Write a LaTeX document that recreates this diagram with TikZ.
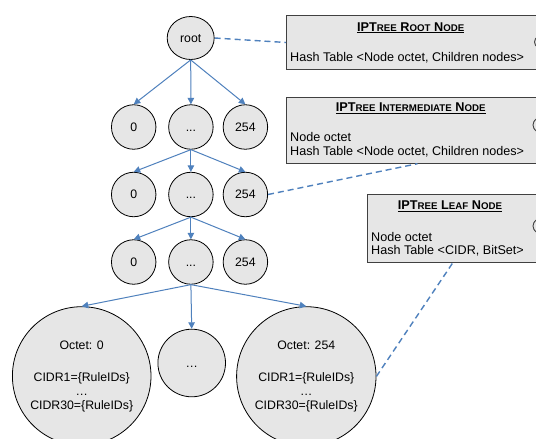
\documentclass[tikz,border=0pt]{standalone}
\usepackage{fontspec}
\setmainfont{Liberation Sans}
\usetikzlibrary{arrows.meta,shapes.geometric}
\definecolor{nodefill}{RGB}{230,230,230}
\definecolor{linkblue}{RGB}{79,129,189}
\definecolor{boxline}{RGB}{64,64,64}
\newcommand\fakesc[1]{{\fontsize{9.7}{10}\selectfont #1}}
\begin{document}
\begin{tikzpicture}[x=1pt,y=-1pt,
  every node/.style={font=\fontsize{12.3}{15}\selectfont},
  tnode/.style={circle,draw=black,fill=nodefill,line width=0.8pt,minimum size=44.5pt,inner sep=0pt,text height=8.8pt,text depth=0pt},
  rootnode/.style={ellipse,draw=black,fill=nodefill,line width=0.8pt,minimum width=47pt,minimum height=43pt,inner sep=0pt,text height=8.8pt,text depth=0pt},
  leafnode/.style={circle,draw=black,fill=nodefill,line width=0.8pt,inner sep=0pt,align=center},
  arr/.style={draw=linkblue,line width=1pt,-{Triangle[length=6.5pt,width=6.5pt]}},
  link/.style={draw=linkblue,line width=1.4pt,dash pattern=on 6pt off 4pt},
  infobox/.style={draw=boxline,fill=nodefill,line width=1pt,inner sep=0pt,anchor=north west},
  boxtitle/.style={anchor=base,inner sep=0pt,font=\fontsize{12.7}{15}\selectfont},
  boxtext/.style={anchor=base west,inner sep=0pt,font=\fontsize{12.6}{15}\selectfont},
  edgemark/.style={draw=boxline,line width=0.9pt}]
\useasboundingbox (0,0) rectangle (536,439);
\clip (0,0) rectangle (536,439);
\fill[white] (0,0) rectangle (536,439);

% info boxes
\node[infobox,minimum width=262pt,minimum height=54pt] (rootbox) at (286,15) {};
\node[infobox,minimum width=262pt,minimum height=66pt] (ibox) at (286,96.7) {};
\node[infobox,minimum width=170.5pt,minimum height=68pt] (lbox) at (366.7,194.3) {};
\draw[edgemark] (546.5,42) circle[x radius=12pt,y radius=8pt];
\draw[edgemark] (545,125) circle[x radius=12pt,y radius=9pt];
\draw[edgemark] (545,226) circle[x radius=12pt,y radius=9pt];

\node[boxtitle] (rt) at (410.7,31) {\underline{\textbf{IPT\fakesc{REE} R\fakesc{OOT} N\fakesc{ODE}}}};
\node[boxtext] (rtx) at (290,61) {Hash Table <Node octet, Children nodes>};
\node[boxtitle] (it) at (410.7,111.7) {\underline{\textbf{IPT\fakesc{REE} I\fakesc{NTERMEDIATE} N\fakesc{ODE}}}};
\node[boxtext] (itx1) at (290,141) {Node octet};
\node[boxtext] (itx2) at (290,155.4) {Hash Table <Node octet, Children nodes>};
\node[boxtitle] (lt) at (450,209.5) {\underline{\textbf{IPT\fakesc{REE} L\fakesc{EAF} N\fakesc{ODE}}}};
\node[boxtext] (ltx1) at (371,241) {Node octet};
\node[boxtext] (ltx2) at (371,254.4) {Hash Table <CIDR, BitSet>};

% tree nodes
\node[rootnode] (root) at (190.7,38) {root};
\node[tnode] (a0) at (133.7,127) {0};
\node[tnode] (a1) at (190.9,127) {...};
\node[tnode] (a2) at (245.4,127) {254};
\node[tnode] (b0) at (133.7,194.5) {0};
\node[tnode] (b1) at (190.9,194.5) {...};
\node[tnode] (b2) at (245.4,194.5) {254};
\node[tnode] (c0) at (133.7,262) {0};
\node[tnode] (c1) at (190.9,262) {...};
\node[tnode] (c2) at (245.4,262) {254};
\node[leafnode,minimum size=138.6pt] (d0) at (81.7,376) {Octet: 0\\[17pt]CIDR1=\{RuleIDs\}\\[-1pt]\dots\\[-1pt]CIDR30=\{RuleIDs\}};
\node[leafnode,minimum size=67.6pt,text height=8.8pt,text depth=0pt] (d1) at (191.7,363) {\dots};
\node[leafnode,minimum size=139.4pt] (d2) at (306.3,376.4) {Octet: 254\\[17pt]CIDR1=\{RuleIDs\}\\[-1pt]\dots\\[-1pt]CIDR30=\{RuleIDs\}};

% arrows
\foreach \p/\c in {root/a0,root/a1,root/a2,a1/b0,a1/b1,a1/b2,b1/c0,b1/c1,b1/c2,c1/d0,c1/d1,c1/d2}
  \draw[arr] (\p.south) -- (\c.north);

% dashed links
\draw[link] (root.east) -- (rootbox.west);
\draw[link] (b2.east) -- (ibox.south);
\draw[link] (d2.east) -- (lbox.south);
\end{tikzpicture}
\end{document}
